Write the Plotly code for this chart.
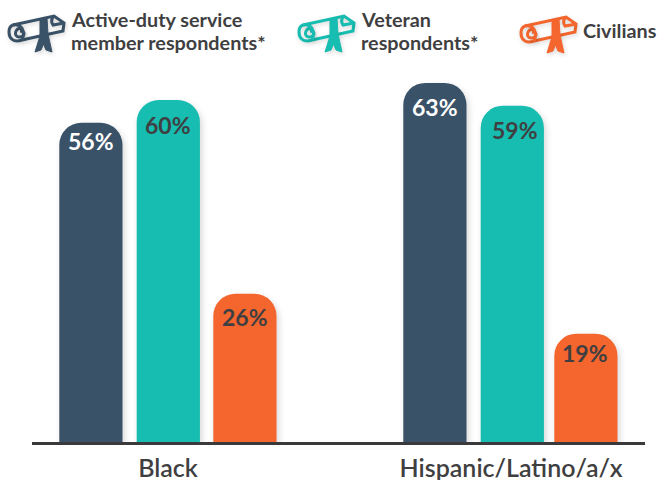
import plotly.graph_objects as go

groups = ["Black", "Hispanic/Latino/a/x"]
series_names = ["Active-duty service member respondents*", "Veteran respondents*", "Civilians"]
active_duty = [56, 63]
veteran = [60, 59]
civilians = [26, 19]

NAVY = "#3A5268"
TEAL = "#16BDB0"
ORANGE = "#F4662D"
INK = "#3F3F42"

W, H = 657, 480
LEFT, RIGHT, BOTTOM = 32, 12, 38
PLOT_W, PLOT_H = W - LEFT - RIGHT, H - BOTTOM
PX = 343.0  # pixels between group centres
SCALE = 5.70  # pixels per percentage point
bar_w = 63.2 / PX


def px_x(x):
    return (x - LEFT) / PLOT_W


def px_y(y):
    return 1 - y / PLOT_H


def scroll(ox, oy, colour):
    """Diploma glyph in paper coordinates, built from pixel offsets."""
    def pt(x, y):
        return f"{px_x(ox + x):.5f},{px_y(oy + y):.5f}"

    def path(*cmds):
        return " ".join(c if isinstance(c, str) else pt(*c) for c in cmds)

    roll = path("M", (6, 12), "L", (47, 3), "L", (57, 10), "L", (56, 18), "L", (15, 27),
                "C", (6, 30), (2, 25), (2, 19), "C", (2, 15), (3, 13), (6, 12))
    front = path("M", (47, 3), "C", (44, 6), (44, 9), (46, 12), "L", (57, 10))
    spiral = path("M", (15, 15), "C", (8, 15), (6, 23), (12, 24), "C", (18, 24), (19, 18), (13, 18))
    seam = path("M", (6, 12), "C", (14, 10), (19, 18), (15, 27))
    strap = path("M", (33, 6), "L", (40, 5), "L", (41, 21), "L", (45, 39), "L", (39, 37),
                 "L", (36.5, 31), "L", (34, 37), "L", (28, 39), "L", (33, 23), "Z")
    out = []
    for d in (roll, front, spiral, seam):
        out.append(dict(type="path", xref="paper", yref="paper", path=d,
                        line=dict(color=colour, width=3), fillcolor="rgba(0,0,0,0)"))
    out.append(dict(type="path", xref="paper", yref="paper", path=strap,
                    line=dict(color=colour, width=1), fillcolor=colour))
    return out


fig = go.Figure()
offsets = [(-108.7 / PX, -107.7 / PX), (-31.3 / PX, -30.3 / PX), (45.3 / PX, 43.3 / PX)]
label_drop = [(17.7, 23.6), (24.5, 23.8), (23, 19.3)]  # label centre below the bar top, px
label_nudge = [(0, 0), (0, 2.7), (0, -0.7)]  # sideways adjustment of each label, px
label_colours = ["#FFFFFF", INK, INK]
annotations = []
for values, name, colour, text_colour, off, drop, nudge in zip(
    (active_duty, veteran, civilians), series_names, (NAVY, TEAL, ORANGE),
    label_colours, offsets, label_drop, label_nudge
):
    fig.add_bar(
        x=groups, y=values, name=name, width=bar_w, offset=list(off),
        marker=dict(color=colour, line=dict(width=0)),
        cliponaxis=False, hoverinfo="skip",
    )
    for i, v in enumerate(values):
        annotations.append(dict(
            x=groups[i], y=v, xref="x", yref="y", text=f"{v}%", showarrow=False,
            xanchor="center", yanchor="middle",
            xshift=(off[i] + bar_w / 2) * PX + nudge[i], yshift=-drop[i],
            font=dict(family="Lato", size=23, color=text_colour, weight=700),
        ))

legend_lines = [
    ("Active-duty service", 71, 19.5),
    ("member respondents*", 71, 42.5),
    ("Veteran", 361, 19.5),
    ("respondents*", 361, 42.5),
    ("Civilians", 583, 30),
]
for text, x, y in legend_lines:
    annotations.append(dict(
        text=text, x=px_x(x), y=px_y(y), xref="paper", yref="paper",
        xanchor="left", yanchor="middle", showarrow=False, xshift=-2,
        font=dict(family="Lato", size=19.8, color=INK, weight=700),
    ))

fig.update_layout(
    width=W, height=H, margin=dict(l=LEFT, r=RIGHT, t=0, b=BOTTOM),
    paper_bgcolor="white", plot_bgcolor="white", showlegend=False,
    barmode="group", barcornerradius=22,
    annotations=annotations,
    shapes=scroll(7, 13, NAVY) + scroll(297, 13, TEAL) + scroll(519, 14, ORANGE),
    font=dict(family="Lato"),
    xaxis=dict(type="category", categoryorder="array", categoryarray=groups,
               range=[-136 / PX, 1 + 134 / PX], showgrid=False, ticks="outside", ticklen=2,
               tickcolor="rgba(0,0,0,0)", automargin=False,
               tickfont=dict(family="Lato", size=25, color=INK, weight=600),
               showline=True, linecolor="#3A3A3C", linewidth=3),
    yaxis=dict(range=[0, PLOT_H / SCALE], visible=False, fixedrange=True, automargin=False),
)

shadow_js = """
document.querySelectorAll('.bars .point path').forEach(function (p) {
  p.style.filter = 'drop-shadow(2px 3px 3px rgba(0,0,0,0.16))';
});
document.querySelectorAll('.shapelayer path').forEach(function (p) {
  p.style.filter = 'drop-shadow(1px 2px 2px rgba(0,0,0,0.15))';
});
"""
fig.write_html("out.html", config=dict(displayModeBar=False), post_script=shadow_js)
